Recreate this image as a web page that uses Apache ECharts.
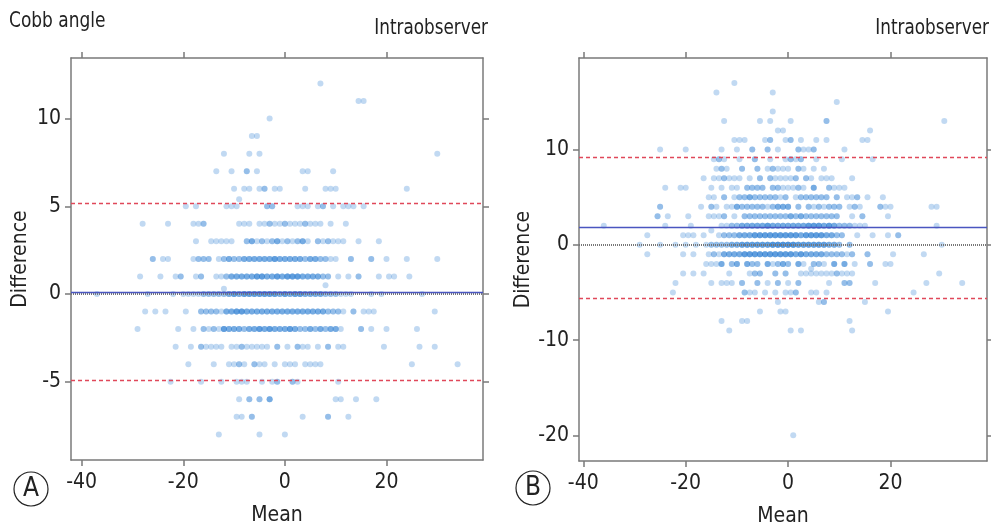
<!DOCTYPE html>
<html>
<head>
<meta charset="utf-8">
<script src="https://cdn.jsdelivr.net/npm/echarts@6/dist/echarts.min.js"></script>
<style>
  html, body { margin: 0; padding: 0; background: #fff; }
  #chart { width: 991px; height: 527px; }
</style>
</head>
<body>
<div id="chart"></div>
<script>
// ---- data ----
const xTicks = [-40, -20, 0, 20];
const yTicksA = [-5, 0, 5, 10];
const yTicksB = [-20, -10, 0, 10];

// Bland-Altman lines: mean difference and limits of agreement
const meanA = 0.11, upperA = 5.15, lowerA = -4.93;
const meanB = 1.89, upperB = 9.23, lowerB = -5.59;

// each row: [difference, means, number of cases at each mean (1 if missing)]
const rowsA = [
  [12, [7]],
  [11, [14.5, 15.5]],
  [10, [-3]],
  [9, [-6.5, -5.5]],
  [8, [-12, -7, -5, 30]],
  [7, [-13.5, -10.5, -7.5, -5.5, 3.5, 4.5, 9.5], [1, 1, 2, 1, 1, 1, 1]],
  [6, [-10, -8, -7, -5, -4, -2, -1, 4, 8, 9, 10, 24], [1, 1, 1, 1, 2, 1, 1, 1, 1, 1, 1, 1]],
  [5.4, [-9]],
  [5, [-19.5, -17.5, -11.5, -10.5, -9.5, -3.5, -2.5, 2.5, 3.5, 4.5, 6.5, 7.5, 9.5, 11.5, 12.5, 13.5, 15.5],
      [1, 1, 1, 1, 1, 2, 2, 1, 1, 1, 1, 2, 1, 1, 1, 1, 1]],
  [4, [-28, -23, -18, -17, -16, -9, -8, -7, -5, -4, -3, -2, -1, 0, 1, 2, 3, 4, 5, 6, 7, 9, 12],
      [1, 1, 1, 1, 2, 1, 1, 1, 1, 1, 2, 1, 1, 2, 1, 1, 1, 2, 1, 1, 1, 1, 1]],
  [3, [-17.5, -14.5, -13.5, -12.5, -11.5, -10.5, -7.5, -6.5, -5.5, -4.5, -3.5, -2.5, -1.5, -0.5, 0.5, 1.5, 2.5, 3.5, 4.5, 6.5, 7.5, 8.5, 9.5, 10.5, 11.5, 14.5, 18.5],
      [1, 1, 1, 1, 1, 1, 2, 3, 1, 2, 1, 2, 3, 1, 2, 1, 2, 3, 1, 2, 1, 2, 1, 1, 1, 1, 1]],
  [2, [-26, -24, -23, -18, -17, -16, -15, -13, -12, -11, -10, -9, -8, -7, -6, -5, -4, -3, -2, -1, 0, 1, 2, 3, 4, 5, 6, 7, 8, 9, 10, 13, 17, 20, 24, 30],
      [2, 1, 1, 1, 2, 2, 2, 1, 2, 3, 2, 2, 3, 3, 3, 3, 3, 3, 4, 3, 3, 3, 3, 3, 2, 3, 3, 2, 2, 1, 1, 2, 2, 1, 1, 1]],
  [1, [-28.5, -24.5, -21.5, -20.5, -17.5, -16.5, -13.5, -12.5, -11.5, -10.5, -9.5, -8.5, -7.5, -6.5, -5.5, -4.5, -3.5, -2.5, -1.5, -0.5, 0.5, 1.5, 2.5, 3.5, 4.5, 5.5, 6.5, 7.5, 8.5, 10.5, 12.5, 14.5, 18.5, 20.5, 21.5, 24.5],
      [1, 1, 1, 2, 1, 2, 1, 1, 2, 3, 3, 3, 3, 3, 4, 4, 3, 3, 4, 3, 4, 4, 4, 3, 3, 3, 3, 2, 2, 1, 1, 2, 1, 1, 1, 1]],
  [0.5, [8]],
  [0.3, [-12]],
  [0, [-37, -27, -22, -20, -19, -18, -17, -16, -15, -14, -13, -12, -11, -10, -9, -8, -7, -6, -5, -4, -3, -2, -1, 0, 1, 2, 3, 4, 5, 6, 7, 8, 9, 10, 11, 12, 13, 17, 19, 27],
      [1, 1, 1, 1, 1, 1, 1, 2, 2, 2, 2, 2, 3, 4, 3, 4, 4, 4, 4, 4, 4, 4, 3, 4, 3, 4, 4, 3, 3, 3, 3, 2, 2, 2, 1, 1, 1, 1, 1, 1]],
  [-1, [-27.5, -25.5, -23.5, -19.5, -16.5, -15.5, -14.5, -13.5, -12.5, -11.5, -10.5, -9.5, -8.5, -7.5, -6.5, -5.5, -4.5, -3.5, -2.5, -1.5, -0.5, 0.5, 1.5, 2.5, 3.5, 4.5, 5.5, 6.5, 7.5, 8.5, 9.5, 10.5, 11.5, 13.5, 15.5, 16.5, 17.5, 29.5],
      [1, 1, 1, 1, 2, 2, 2, 2, 1, 3, 3, 4, 4, 3, 3, 3, 3, 3, 3, 3, 3, 3, 3, 3, 3, 3, 3, 3, 3, 2, 2, 2, 1, 2, 1, 1, 1, 1]],
  [-2, [-29, -21, -18, -16, -15, -14, -13, -12, -11, -10, -9, -8, -7, -6, -5, -4, -3, -2, -1, 0, 1, 2, 3, 4, 5, 6, 7, 8, 9, 10, 11, 15, 17, 20, 26],
      [1, 1, 1, 2, 1, 2, 1, 4, 3, 3, 3, 2, 3, 3, 4, 3, 4, 3, 3, 3, 4, 3, 2, 2, 3, 2, 3, 2, 3, 3, 1, 2, 1, 1, 1]],
  [-3, [-21.5, -18.5, -16.5, -15.5, -14.5, -13.5, -12.5, -10.5, -9.5, -8.5, -7.5, -6.5, -5.5, -4.5, -3.5, -1.5, 0.5, 2.5, 3.5, 4.5, 6.5, 8.5, 10.5, 11.5, 19.5, 26.5, 29.5],
      [1, 1, 2, 1, 1, 1, 1, 1, 1, 2, 1, 1, 1, 1, 1, 2, 1, 2, 1, 1, 1, 2, 1, 1, 1, 1, 1]],
  [-4, [-19, -14, -11, -10, -9, -8, -6, -5, -4, -2, 0, 1, 2, 4, 5, 6, 7, 25, 34],
      [1, 1, 1, 1, 2, 1, 2, 1, 1, 1, 1, 1, 1, 1, 1, 1, 1, 1, 1]],
  [-5, [-22.5, -16.5, -12.5, -9.5, -8.5, -7.5, -4.5, -2.5, -1.5, 1.5, 2.5, 10.5],
      [1, 1, 1, 1, 1, 1, 1, 1, 2, 2, 1, 1]],
  [-6, [-9, -7, -5, -3, 10, 11, 14, 18], [1, 2, 2, 3, 1, 1, 1, 1]],
  [-7, [-9.5, -8.5, -6.5, 3.5, 8.5, 12.5], [1, 1, 2, 1, 2, 1]],
  [-8, [-13, -5, 0]]
];

const rowsB = [
  [17, [-10.5]],
  [16, [-14, -3]],
  [15, [9.5]],
  [14, [-3]],
  [13, [-12.5, -5.5, -3.5, 0.5, 7.5, 30.5], [1, 1, 1, 1, 2, 1]],
  [12, [-2, -1, 16]],
  [11, [-10.5, -9.5, -8.5, -4.5, -3.5, -0.5, 0.5, 2.5, 5.5, 7.5, 14.5, 15.5], [1, 1, 1, 1, 2, 1, 2, 1, 1, 1, 1, 1]],
  [10, [-25, -20, -13, -10, -7, -4, -2, 2, 3, 4, 5, 11], [1, 1, 1, 1, 2, 2, 1, 2, 1, 1, 2, 1]],
  [9, [-14.5, -13.5, -12.5, -9.5, -6.5, -3.5, -0.5, 0.5, 1.5, 2.5, 5.5, 10.5, 16.5], [1, 2, 1, 1, 2, 1, 1, 2, 1, 2, 1, 1, 1]],
  [8, [-14, -13, -12, -9, -6, -4, -3, -2, -1, 0, 2, 3, 5, 7], [1, 2, 1, 2, 2, 1, 2, 1, 1, 1, 2, 1, 1, 1]],
  [7, [-16.5, -14.5, -13.5, -12.5, -11.5, -10.5, -9.5, -7.5, -5.5, -3.5, -2.5, -1.5, -0.5, 0.5, 1.5, 3.5, 4.5, 6.5, 7.5, 8.5, 12.5],
      [1, 1, 1, 2, 1, 1, 1, 1, 2, 2, 1, 1, 1, 1, 2, 2, 1, 1, 1, 1, 1]],
  [6, [-24, -21, -20, -15, -13, -11, -10, -8, -7, -6, -5, -3, -2, -1, 0, 1, 2, 3, 5, 8, 9, 10, 11],
      [1, 1, 1, 1, 1, 1, 1, 2, 2, 2, 2, 2, 2, 1, 1, 1, 2, 1, 3, 2, 1, 1, 1]],
  [5, [-15.5, -14.5, -12.5, -10.5, -9.5, -8.5, -7.5, -6.5, -5.5, -4.5, -3.5, -2.5, -1.5, -0.5, 1.5, 2.5, 3.5, 4.5, 5.5, 6.5, 7.5, 9.5, 11.5, 12.5, 13.5, 15.5, 18.5],
      [1, 1, 2, 1, 2, 2, 3, 2, 2, 2, 2, 2, 1, 2, 1, 2, 2, 2, 2, 2, 2, 2, 1, 1, 2, 1, 1]],
  [4, [-25, -17, -15, -14, -12, -11, -10, -9, -8, -7, -6, -5, -4, -3, -2, -1, 0, 2, 4, 5, 6, 7, 8, 9, 10, 12, 13, 14, 18, 19, 20, 28, 29],
      [2, 1, 2, 1, 1, 1, 3, 2, 2, 2, 2, 2, 1, 2, 3, 3, 3, 2, 2, 1, 2, 1, 2, 2, 2, 1, 2, 1, 2, 1, 1, 1, 1]],
  [3, [-25.5, -23.5, -19.5, -15.5, -14.5, -13.5, -12.5, -10.5, -8.5, -7.5, -6.5, -5.5, -4.5, -3.5, -2.5, -1.5, -0.5, 0.5, 1.5, 2.5, 3.5, 4.5, 5.5, 6.5, 7.5, 8.5, 9.5, 12.5, 14.5, 19.5],
      [2, 1, 1, 1, 1, 1, 2, 1, 2, 2, 2, 2, 2, 2, 2, 2, 2, 3, 2, 3, 2, 2, 2, 2, 2, 2, 2, 1, 2, 1]],
  [2, [-36, -24, -19, -13, -12, -11, -10, -9, -8, -7, -6, -5, -4, -3, -2, -1, 0, 1, 2, 3, 4, 5, 6, 7, 8, 9, 10, 11, 12, 13, 14, 15, 29],
      [1, 1, 1, 1, 1, 2, 2, 3, 3, 3, 3, 3, 4, 3, 3, 3, 3, 3, 3, 3, 4, 4, 4, 3, 4, 3, 2, 2, 2, 1, 1, 1, 1]],
  [1.5, [-15]],
  [1, [-27.5, -20.5, -19.5, -18.5, -16.5, -13.5, -12.5, -11.5, -10.5, -9.5, -8.5, -7.5, -6.5, -5.5, -4.5, -3.5, -2.5, -1.5, -0.5, 0.5, 1.5, 2.5, 3.5, 4.5, 5.5, 6.5, 7.5, 8.5, 9.5, 10.5, 13.5, 16.5, 19.5, 21.5],
      [1, 1, 1, 1, 1, 1, 2, 2, 2, 3, 3, 3, 4, 4, 4, 4, 4, 4, 4, 4, 4, 3, 4, 4, 4, 4, 3, 3, 2, 2, 1, 1, 1, 2]],
  [0, [-29, -25, -22, -20, -18, -16, -15, -14, -13, -12, -11, -10, -9, -8, -7, -6, -5, -4, -3, -2, -1, 0, 1, 2, 3, 4, 5, 6, 7, 8, 9, 10, 12, 30],
      [1, 1, 1, 1, 1, 1, 2, 2, 2, 2, 3, 3, 4, 4, 4, 4, 4, 4, 5, 5, 5, 5, 5, 4, 4, 4, 4, 4, 4, 3, 3, 2, 2, 1]],
  [-1, [-27.5, -20.5, -18.5, -15.5, -14.5, -13.5, -12.5, -11.5, -10.5, -9.5, -8.5, -7.5, -6.5, -5.5, -4.5, -3.5, -2.5, -1.5, -0.5, 0.5, 1.5, 2.5, 3.5, 4.5, 5.5, 6.5, 7.5, 8.5, 9.5, 10.5, 11.5, 12.5, 15.5, 20.5, 26.5],
      [1, 1, 1, 1, 2, 1, 3, 3, 3, 3, 4, 4, 4, 4, 4, 4, 4, 4, 4, 4, 3, 4, 3, 3, 3, 3, 2, 2, 2, 2, 1, 2, 2, 1, 1]],
  [-2, [-16, -15, -14, -13, -11, -10, -8, -7, -6, -4, -3, -2, -1, 0, 2, 3, 5, 6, 7, 9, 11, 13, 16, 19, 20],
      [1, 1, 1, 3, 2, 3, 3, 2, 2, 3, 1, 2, 3, 2, 3, 1, 2, 2, 1, 3, 3, 1, 2, 1, 1]],
  [-2.5, [4.5]],
  [-3, [-20.5, -18.5, -16.5, -11.5, -7.5, -6.5, -5.5, -2.5, -0.5, 2.5, 3.5, 4.5, 5.5, 6.5, 7.5, 8.5, 9.5, 10.5, 11.5, 12.5, 29.5],
      [1, 1, 1, 1, 1, 2, 2, 2, 2, 1, 1, 1, 1, 1, 1, 1, 2, 1, 1, 1, 1]],
  [-4, [-22, -15, -13, -12, -11, -9, -6, -4, -2, 0, 2, 8, 11, 12, 17, 27, 34],
      [1, 1, 1, 1, 1, 2, 2, 1, 2, 1, 2, 1, 2, 2, 1, 1, 1]],
  [-5, [-22.5, -8.5, -7.5, -6.5, -4.5, -2.5, -0.5, 0.5, 1.5, 4.5, 5.5, 7.5, 24.5],
      [1, 2, 1, 1, 1, 1, 1, 1, 2, 1, 1, 1, 1]],
  [-6, [-2, 6, 7, 15], [1, 1, 2, 1]],
  [-7, [-5.5, -1.5, -0.5, 19.5]],
  [-8, [-13, -9, -8, 12]],
  [-9, [-11.5, 0.5, 2.5, 12.5]],
  [-20, [1]]
];

// ---- build the points (one copy per case so stacks get darker) ----
function toPoints(rows) {
  const pts = [];
  rows.forEach(function (r) {
    const y = r[0], xs = r[1], ns = r[2] || [];
    xs.forEach(function (x, i) {
      const n = ns[i] || 1;
      for (let k = 0; k < n; k++) pts.push([x, y]);
    });
  });
  return pts;
}

const FONT = '"Liberation Sans Narrow", "DejaVu Sans Condensed", "Roboto", sans-serif';
const BOX = '#7a7a7a';
const DOT = 'rgba(40, 125, 210, 0.36)';

function xAxisFor(gi, min, max, top) {
  return {
    type: 'value', gridIndex: gi, min: min, max: max,
    position: top ? 'top' : 'bottom',
    name: top ? '' : 'Mean', nameLocation: 'middle', nameGap: 45,
    nameTextStyle: { fontFamily: FONT, fontSize: 21, color: '#222' },
    axisLine: { show: true, onZero: false, lineStyle: { color: BOX, width: 1.5 } },
    axisTick: { show: true, inside: false, length: 6, customValues: xTicks, lineStyle: { color: BOX, width: 1.5 } },
    axisLabel: { show: !top, customValues: xTicks, margin: 12, fontFamily: FONT, fontSize: 21, color: '#222' },
    splitLine: { show: false }
  };
}

function yAxisFor(gi, min, max, ticks, right) {
  return {
    type: 'value', gridIndex: gi, min: min, max: max,
    position: right ? 'right' : 'left',
    name: right ? '' : 'Difference', nameLocation: 'middle', nameGap: 40,
    nameTextStyle: { fontFamily: FONT, fontSize: 21, color: '#222' },
    axisLine: { show: true, onZero: false, lineStyle: { color: BOX, width: 1.5 } },
    axisTick: { show: true, inside: false, length: 6, customValues: ticks, lineStyle: { color: BOX, width: 1.5 } },
    axisLabel: { show: !right, customValues: ticks, margin: 10, fontFamily: FONT, fontSize: 21, color: '#222' },
    splitLine: { show: false }
  };
}

function blandLines(mean, lo, hi) {
  return {
    silent: true, symbol: 'none', label: { show: false },
    data: [
      { yAxis: 0, lineStyle: { color: '#777', type: [1, 1], width: 2 } },
      { yAxis: mean, lineStyle: { color: '#4a56c0', type: 'solid', width: 1.3 } },
      { yAxis: hi, lineStyle: { color: '#e0485a', type: [4, 3], width: 1.3 } },
      { yAxis: lo, lineStyle: { color: '#e0485a', type: [4, 3], width: 1.3 } }
    ]
  };
}

const chart = echarts.init(document.getElementById('chart'));
chart.setOption({
  backgroundColor: '#fff',
  animation: false,
  grid: [
    { left: 71, top: 58, width: 412, height: 402, containLabel: false, outerBoundsMode: 'none' },
    { left: 579, top: 58, width: 408, height: 403, containLabel: false, outerBoundsMode: 'none' }
  ],
  xAxis: [
    xAxisFor(0, -42.1, 39, false),
    xAxisFor(0, -42.1, 39, true),
    xAxisFor(1, -40.84, 38.84, false),
    xAxisFor(1, -40.84, 38.84, true)
  ],
  yAxis: [
    yAxisFor(0, -9.46, 13.45, yTicksA, false),
    yAxisFor(0, -9.46, 13.45, yTicksA, true),
    yAxisFor(1, -22.7, 19.62, yTicksB, false),
    yAxisFor(1, -22.7, 19.62, yTicksB, true)
  ],
  series: [
    {
      type: 'scatter', xAxisIndex: 0, yAxisIndex: 0, symbolSize: 6,
      itemStyle: { color: DOT }, data: toPoints(rowsA),
      markLine: blandLines(meanA, lowerA, upperA)
    },
    {
      type: 'scatter', xAxisIndex: 2, yAxisIndex: 2, symbolSize: 6,
      itemStyle: { color: DOT }, data: toPoints(rowsB),
      markLine: blandLines(meanB, lowerB, upperB)
    }
  ],
  graphic: [
    { type: 'text', x: 9, y: 11, scaleX: 0.9, style: { text: 'Cobb angle', font: '21px ' + FONT, fill: '#222' } },
    { type: 'text', x: 488, y: 17, scaleX: 0.85, style: { text: 'Intraobserver', font: '22px ' + FONT, fill: '#222', align: 'right', textAlign: 'right' } },
    { type: 'text', x: 989, y: 17, scaleX: 0.85, style: { text: 'Intraobserver', font: '22px ' + FONT, fill: '#222', align: 'right', textAlign: 'right' } },
    { type: 'circle', shape: { cx: 31, cy: 489, r: 17 }, style: { fill: 'none', stroke: '#222', lineWidth: 1.2 } },
    { type: 'text', x: 31, y: 489, style: { text: 'A', font: '26px ' + FONT, fill: '#222', align: 'center', verticalAlign: 'middle', textAlign: 'center', textVerticalAlign: 'middle' } },
    { type: 'circle', shape: { cx: 533, cy: 488, r: 17 }, style: { fill: 'none', stroke: '#222', lineWidth: 1.2 } },
    { type: 'text', x: 533, y: 488, style: { text: 'B', font: '26px ' + FONT, fill: '#222', align: 'center', verticalAlign: 'middle', textAlign: 'center', textVerticalAlign: 'middle' } }
  ]
});
</script>
</body>
</html>
